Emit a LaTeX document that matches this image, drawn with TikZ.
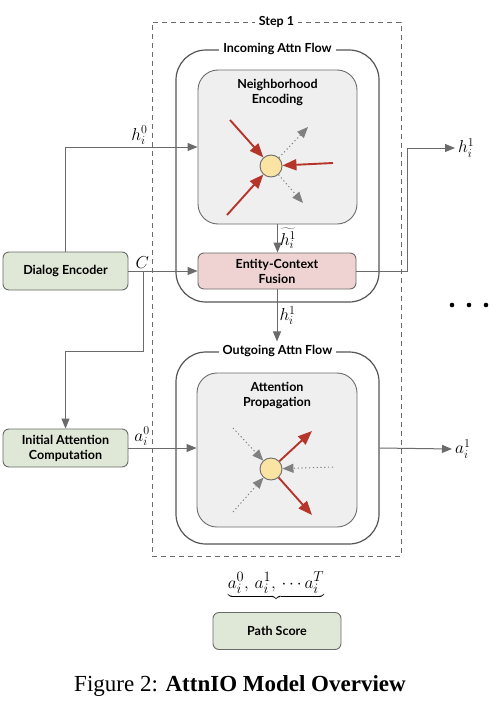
\documentclass[tikz,border=0pt]{standalone}
\usepackage{fontspec}
\setmainfont{Liberation Serif}
\newfontfamily\latofont{Lato}
\usetikzlibrary{positioning,calc,arrows.meta}
\definecolor{linegray}{HTML}{6B6B6B}
\definecolor{flowgray}{HTML}{555555}
\definecolor{panelfill}{HTML}{EFEFEF}
\definecolor{encfill}{HTML}{DFE8D6}
\definecolor{fusefill}{HTML}{EFD3D3}
\definecolor{hubfill}{HTML}{FBE3A3}
\definecolor{attnred}{HTML}{B5352B}
\tikzset{
  lbl/.style={font=\latofont\bfseries\fontsize{12.5}{15}\selectfont, align=center},
  blk/.style={lbl, draw=linegray, line width=0.9pt, rounded corners=6pt,
    minimum width=#1, minimum height=38pt, inner sep=2pt},
  blk/.default=125pt,
  enc/.style={blk=#1, fill=encfill},
  enc/.default=125pt,
  panel/.style={draw=linegray, line width=0.9pt, fill=panelfill, rounded corners=20pt,
    minimum width=160pt, minimum height=154pt},
  flow/.style={draw=flowgray, line width=1.2pt, rounded corners=30pt, minimum width=203pt},
  ttl/.style={lbl, fill=white, inner sep=4pt},
  hub/.style={circle, draw=linegray, line width=0.9pt, fill=hubfill, minimum size=22pt, inner sep=0pt},
  conn/.style={draw=linegray, line width=1pt, -{Triangle[length=10pt,width=8pt]}},
  redarr/.style={draw=attnred, line width=1.9pt, -{Triangle[length=14pt,width=11pt]}},
  dotarr/.style={draw=gray, line width=1pt, dash pattern=on 1.2pt off 2.6pt,
    -{Triangle[length=11pt,width=9pt]}},
  mathlbl/.style={font=\fontsize{17}{19}\selectfont, inner sep=2pt},
}

\begin{document}
\begin{tikzpicture}[x=1pt, y=-1pt]
\useasboundingbox[fill=white] (0,0) rectangle (496,709);

% ===== Step 1 frame =====
\node[draw=linegray, line width=0.9pt, dash pattern=on 5pt off 4pt,
  minimum width=249pt, minimum height=534pt] (step) at (276.5,289) {};
\node[ttl] at (step.north) {Step 1};

% ===== Incoming attention flow =====
\node[flow, minimum height=252pt] (inflow) at (277.5,176) {};
\node[ttl] (intitle) at (inflow.north) {Incoming Attn Flow};
\node[panel, minimum width=159pt] (nbr) at (277.5,147) {};
\node[lbl, below=6pt of nbr.north] {Neighborhood\\Encoding};
\node[hub] (hub1) at (271,166) {};
\foreach \dx/\dy in {-41/-46, -44/49, 62/-3}
  { \draw[redarr] ($(hub1)+(\dx,\dy)$) -- (hub1); }
\foreach \dx/\dy in {37/-39, 32/37}
  { \draw[dotarr] (hub1) -- ++(\dx,\dy); }

\node[blk=158pt, fill=fusefill, minimum height=36pt] (ecf) at (277,271) {Entity-Context\\Fusion};
\draw[conn] (nbr.south) -- node[mathlbl, right] {$\widetilde{h_i^1}$} (nbr.south |- ecf.north);

% ===== Outgoing attention flow =====
\node[flow, minimum height=192pt] (outflow) at (277.5,448) {};
\node[ttl] (outtitle) at (outflow.north) {Outgoing Attn Flow};
\draw[conn] (ecf.south) -- node[mathlbl, right] {$h_i^1$} (ecf.south |- outtitle.north);
\node[panel] (prop) at (277,450) {};
\node[lbl, below=6pt of prop.north] {Attention\\Propagation};
\node[hub] (hub2) at (271,469) {};
\foreach \dx/\dy in {-38/-41, 62/-2, -38/43}
  { \draw[dotarr] ($(hub2)+(\dx,\dy)$) -- (hub2); }
\foreach \dx/\dy in {41/-38, 41/46}
  { \draw[redarr] (hub2) -- ++(\dx,\dy); }

% ===== inputs =====
\node[enc] (dlg) at (65.5,271) {Dialog Encoder};
\node[enc] (iac) at (65.5,448) {Initial Attention\\Computation};
\coordinate (cfork) at (143,271);
\draw[conn] (dlg.north) |- node[mathlbl, pos=0.78, above] {$h_i^0$} (nbr.west);
\draw[conn] (dlg.east) -- node[mathlbl, pos=0.2, above] {$C$} (ecf.west);
\draw[conn] (cfork) -- ++(0,80) -| (iac.north);
\draw[conn] (iac.east) -- node[mathlbl, pos=0.2, above] {$a_i^0$} (iac.east -| prop.west);

% ===== outputs =====
\coordinate (hout) at (455,148);
\draw[conn] (ecf.east) -| ++(51,-123) -- (hout);
\node[mathlbl, right=1pt of hout] {$h_i^1$};
\coordinate (aout) at (452,449);
\draw[conn] (outflow.east) -- (aout);
\node[mathlbl, right=1pt of aout] {$a_i^1$};
\foreach \x in {452,469,486} { \fill (\x,305) circle (2.3pt); }

% ===== path score =====
\node[mathlbl, font=\fontsize{19}{21}\selectfont] (traj) at (276,586) {$\underbrace{a_i^0,\, a_i^1,\,\cdots a_i^T}$};
\node[enc=128pt, minimum height=37pt] (score) at (277,631) {Path Score};

\node[font=\fontsize{23}{27}\selectfont] (cap) at (240,686) {Figure 2: \textbf{AttnIO Model Overview}};

\end{tikzpicture}
\end{document}
